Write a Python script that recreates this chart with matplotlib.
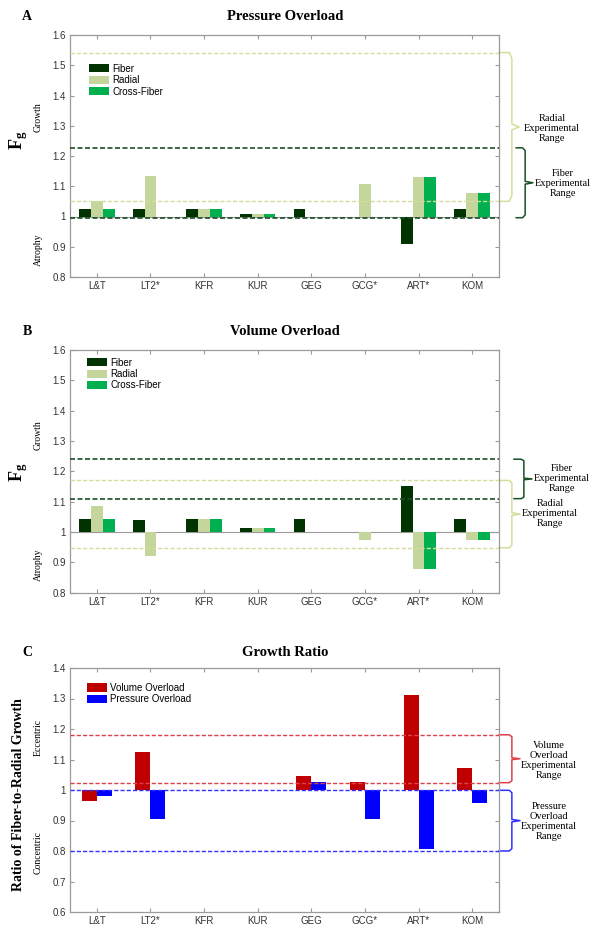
import matplotlib
matplotlib.use("Agg")
import matplotlib.pyplot as plt
import numpy as np

plt.rcParams['font.family'] = ['Liberation Sans', 'DejaVu Sans']
plt.rcParams['mathtext.fontset'] = 'custom'
plt.rcParams['mathtext.rm'] = 'Liberation Serif'
plt.rcParams['mathtext.bf'] = 'Liberation Serif:bold'

# studies on x axis
studies = ["L&T", "LT2*", "KFR", "KUR", "GEG", "GCG*", "ART*", "KOM"]

# panel A - pressure overload (Fg)
po_fiber = [1.026, 1.024, 1.026, 1.009, 1.026, 1.0, 0.91, 1.026]
po_radial = [1.052, 1.134, 1.026, 1.009, 1.0, 1.109, 1.13, 1.077]
po_cross = [1.026, 1.0, 1.026, 1.009, 1.0, 1.0, 1.13, 1.077]
po_fiber_range = [0.996, 1.227]
po_radial_range = [1.05, 1.542]

# panel B - volume overload (Fg)
vo_fiber = [1.044, 1.040, 1.044, 1.012, 1.044, 1.0, 1.151, 1.044]
vo_radial = [1.087, 0.922, 1.044, 1.012, 1.0, 0.973, 0.877, 0.974]
vo_cross = [1.044, 1.0, 1.044, 1.012, 1.0, 1.0, 0.877, 0.974]
vo_fiber_range = [1.11, 1.24]
vo_radial_range = [0.948, 1.17]

# panel C - growth ratio
gr_volume = [0.963, 1.125, 1.0, 1.0, 1.047, 1.027, 1.312, 1.073]
gr_pressure = [0.979, 0.904, 1.0, 1.0, 1.027, 0.904, 0.805, 0.956]
gr_volume_range = [1.024, 1.181]
gr_pressure_range = [0.80, 0.999]

c_fiber = "#003300"
c_radial = "#c4d69c"
c_cross = "#00b050"
c_fiber_line = "#1a4f27"
c_radial_line = "#d6dc9c"
c_red = "#c00000"
c_blue = "#0000ff"
c_red_line = "#e0404a"
c_blue_line = "#3030ff"
serif = ['Liberation Serif', 'DejaVu Serif']

fig = plt.figure(figsize=(6.02, 9.33), dpi=100)

x = np.arange(1, len(studies) + 1)


def style_axes(ax, ylim, yticks):
    ax.set_xlim(0.5, 8.5)
    ax.set_ylim(*ylim)
    ax.set_xticks(x)
    ax.set_xticklabels(studies)
    ax.set_yticks(yticks)
    ax.set_yticklabels(["1" if abs(t - 1) < 1e-9 else "%g" % t for t in yticks])
    ax.tick_params(direction="in", length=3, labelsize=7, colors="#9a9a9a",
                   labelcolor="#333333", top=True, right=True, pad=3)
    for s in ax.spines.values():
        s.set_color("#9a9a9a")
        s.set_linewidth(0.9)


def brace(ax, y0, y1, xa, xv, xt, color):
    # curly bracket drawn in axes-fraction x / data y
    tr = ax.get_yaxis_transform()
    ym = (y0 + y1) / 2
    h = abs(y1 - y0)
    e = h * 0.04
    xs = [xa, xv - 0.006, xv, xv, xt, xv, xv, xv - 0.006, xa]
    ys = [y1, y1, y1 - e, ym + e * 0.5, ym, ym - e * 0.5, y0 + e, y0, y0]
    ax.plot(xs, ys, color=color, lw=1.1, transform=tr, clip_on=False)


def range_lines(ax, ys, color, lw=1.0):
    for yv in ys:
        ax.axhline(yv, color=color, ls=(0, (3, 1.5)), lw=lw, zorder=3)


def side_labels(fig_y, label, up, down, up_y, down_y, size=13):
    fig.text(0.030, fig_y, label, rotation=90, ha="center", va="center",
             fontsize=size, fontweight="bold", family=serif)
    fig.text(0.063, up_y, up, rotation=90, ha="center", va="center",
             fontsize=7, family=serif)
    fig.text(0.063, down_y, down, rotation=90, ha="center", va="center",
             fontsize=7, family=serif)


def range_text(ax, xf, yv, s):
    ax.text(xf, yv, s, transform=ax.get_yaxis_transform(), ha="center", va="center",
            fontsize=7.5, family=serif, linespacing=1.15)


def add_legend(ax, xf, yf):
    ax.legend(loc="upper left", bbox_to_anchor=(xf, yf), frameon=False, fontsize=7,
              handlelength=2.1, handleheight=0.9, labelspacing=0.15, handletextpad=0.3,
              borderaxespad=0)


left, width = 70 / 602, 429 / 602
w3 = 0.22
base = 1.0

# ---------- A ----------
axA = fig.add_axes([left, 1 - 277 / 933, width, 242 / 933])
axA.bar(x - w3, np.array(po_fiber) - base, w3, bottom=base, color=c_fiber, label="Fiber", zorder=2)
axA.bar(x, np.array(po_radial) - base, w3, bottom=base, color=c_radial, label="Radial", zorder=2)
axA.bar(x + w3, np.array(po_cross) - base, w3, bottom=base, color=c_cross, label="Cross-Fiber", zorder=2)
axA.axhline(1.0, color="#9a9a9a", lw=0.8, zorder=1)
range_lines(axA, po_radial_range, c_radial_line)
range_lines(axA, po_fiber_range, c_fiber_line, lw=1.2)
style_axes(axA, (0.8, 1.6), np.round(np.arange(0.8, 1.61, 0.1), 1))
add_legend(axA, 0.035, 0.897)
brace(axA, po_radial_range[0], po_radial_range[1], 1.0, 1.030, 1.047, c_radial_line)
brace(axA, po_fiber_range[0], po_fiber_range[1], 1.040, 1.061, 1.079, c_fiber_line)
range_text(axA, 1.124, 1.29, "Radial\nExperimental\nRange")
range_text(axA, 1.149, 1.11, "Fiber\nExperimental\nRange")
fig.text(27 / 602, 1 - 17 / 933, "A", ha="center", va="center", fontsize=10,
         fontweight="bold", family=serif)
fig.text(285 / 602, 1 - 17 / 933, "Pressure Overload", ha="center", va="center",
         fontsize=10.5, fontweight="bold", family=serif)
side_labels(1 - 140 / 933, r"$\mathbf{F_g}$", "Growth", "Atrophy", 1 - 117 / 933, 1 - 250 / 933)

# ---------- B ----------
axB = fig.add_axes([left, 1 - 592.7 / 933, width, 242.7 / 933])
axB.bar(x - w3, np.array(vo_fiber) - base, w3, bottom=base, color=c_fiber, label="Fiber", zorder=2)
axB.bar(x, np.array(vo_radial) - base, w3, bottom=base, color=c_radial, label="Radial", zorder=2)
axB.bar(x + w3, np.array(vo_cross) - base, w3, bottom=base, color=c_cross, label="Cross-Fiber", zorder=2)
axB.axhline(1.0, color="#9a9a9a", lw=0.8, zorder=1)
range_lines(axB, vo_radial_range, c_radial_line)
range_lines(axB, vo_fiber_range, c_fiber_line, lw=1.2)
style_axes(axB, (0.8, 1.6), np.round(np.arange(0.8, 1.61, 0.1), 1))
add_legend(axB, 0.03, 0.985)
brace(axB, vo_fiber_range[0], vo_fiber_range[1], 1.035, 1.058, 1.077, c_fiber_line)
brace(axB, vo_radial_range[0], vo_radial_range[1], 1.0, 1.030, 1.049, c_radial_line)
range_text(axB, 1.147, 1.177, "Fiber\nExperimental\nRange")
range_text(axB, 1.119, 1.06, "Radial\nExperimental\nRange")
fig.text(27 / 602, 1 - 332 / 933, "B", ha="center", va="center", fontsize=10,
         fontweight="bold", family=serif)
fig.text(285 / 602, 1 - 332 / 933, "Volume Overload", ha="center", va="center",
         fontsize=10.5, fontweight="bold", family=serif)
side_labels(1 - 472 / 933, r"$\mathbf{F_g}$", "Growth", "Atrophy", 1 - 435 / 933, 1 - 565 / 933)

# ---------- C ----------
w2 = 0.28
axC = fig.add_axes([left, 1 - 912 / 933, width, 244 / 933])
axC.bar(x - w2 / 2, np.array(gr_volume) - base, w2, bottom=base, color=c_red,
        label="Volume Overload", zorder=2)
axC.bar(x + w2 / 2, np.array(gr_pressure) - base, w2, bottom=base, color=c_blue,
        label="Pressure Overload", zorder=2)
range_lines(axC, gr_volume_range, c_red_line)
range_lines(axC, gr_pressure_range, c_blue_line)
style_axes(axC, (0.6, 1.4), np.round(np.arange(0.6, 1.41, 0.1), 1))
add_legend(axC, 0.03, 0.955)
brace(axC, gr_volume_range[0], gr_volume_range[1], 1.0, 1.030, 1.049, c_red_line)
brace(axC, gr_pressure_range[0], gr_pressure_range[1], 1.0, 1.030, 1.049, c_blue_line)
range_text(axC, 1.117, 1.098, "Volume\nOverload\nExperimental\nRange")
range_text(axC, 1.117, 0.898, "Pressure\nOverload\nExperimental\nRange")
fig.text(27 / 602, 1 - 652 / 933, "C", ha="center", va="center", fontsize=10,
         fontweight="bold", family=serif)
fig.text(285 / 602, 1 - 652 / 933, "Growth Ratio", ha="center", va="center",
         fontsize=10.5, fontweight="bold", family=serif)
side_labels(1 - 795 / 933, "Ratio of Fiber-to-Radial Growth", "Eccentric", "Concentric",
            1 - 737 / 933, 1 - 853 / 933, size=10)

fig.savefig("out.png", dpi=100)
